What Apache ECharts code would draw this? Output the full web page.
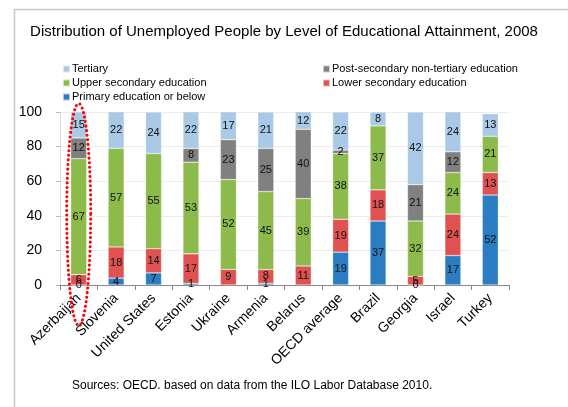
<!DOCTYPE html>
<html>
<head>
<meta charset="utf-8">
<script src="https://cdn.jsdelivr.net/npm/echarts@6/dist/echarts.min.js"></script>
<style>html,body{margin:0;padding:0;background:#fff}#c{width:568px;height:407px}</style>
</head>
<body>
<div id="c"></div>
<script>
const categories = ['Azerbaijan','Slovenia','United States','Estonia','Ukraine','Armenia','Belarus','OECD average','Brazil','Georgia','Israel','Turkey'];
const primary   = [0, 4, 7, 1, null, 1, null, 19, 37, 0, 17, 52];
const lowerSec  = [6, 18, 14, 17, 9, 8, 11, 19, 18, 5, 24, 13];
const upperSec  = [67, 57, 55, 53, 52, 45, 39, 38, 37, 32, 24, 21];
const postSec   = [12, null, null, 8, 23, 25, 40, 2, null, 21, 12, null];
const tertiary  = [15, 22, 24, 22, 17, 21, 12, 22, 8, 42, 24, 13];
const yTicks = {min: 0, max: 100, interval: 20};
const highlighted = 'Azerbaijan';

const font = 'Liberation Sans, Arial, sans-serif';
const chart = echarts.init(document.getElementById('c'), null, {renderer: 'canvas'});

function bar(name, data, color) {
  return {
    name: name, type: 'bar', stack: 'total', data: data, barWidth: 16,
    itemStyle: {color: color, borderColor: 'rgba(255,255,255,0.6)', borderWidth: 0.5},
    label: {show: true, position: 'inside', color: '#111', fontSize: 11, fontFamily: font,
            formatter: p => (p.value === null || p.value === undefined) ? '' : String(p.value)},
    emphasis: {disabled: true}
  };
}

const option = {
  animation: false,
  backgroundColor: '#fff',
  title: {
    text: 'Distribution of Unemployed People by Level of Educational Attainment, 2008',
    left: 'center', top: 19,
    textStyle: {fontSize: 15, fontWeight: 'normal', color: '#000', fontFamily: font}
  },
  legend: [
    {data: ['Tertiary', 'Upper secondary education', 'Primary education or below'],
     orient: 'vertical', left: 57, top: 57, itemWidth: 7, itemHeight: 7, itemGap: 0,
     icon: 'rect', selectedMode: false,
     textStyle: {fontSize: 11, color: '#000', fontFamily: font, lineHeight: 14, padding: [0,0,0,-3]}},
    {data: ['Post-secondary non-tertiary education', 'Lower secondary education'],
     orient: 'vertical', left: 317, top: 57, itemWidth: 7, itemHeight: 7, itemGap: 0,
     icon: 'rect', selectedMode: false,
     textStyle: {fontSize: 11, color: '#000', fontFamily: font, lineHeight: 14, padding: [0,0,0,-3]}}
  ],
  grid: {left: 60, right: 59, top: 112, bottom: 122, containLabel: false},
  xAxis: {
    type: 'category', data: categories,
    axisLine: {lineStyle: {color: '#888', width: 1}},
    axisTick: {show: true, alignWithLabel: false, length: 5, lineStyle: {color: '#888'}},
    axisLabel: {rotate: 45, fontSize: 14, color: '#000', fontFamily: font, margin: 11, interval: 0}
  },
  yAxis: {
    type: 'value', min: yTicks.min, max: yTicks.max, interval: yTicks.interval,
    axisLine: {show: true, lineStyle: {color: '#d9d9d9'}},
    axisTick: {show: true, length: 4, lineStyle: {color: '#bbb'}},
    splitLine: {lineStyle: {color: '#ececec'}},
    axisLabel: {fontSize: 14, color: '#000', fontFamily: font, margin: 18}
  },
  series: [
    bar('Primary education or below', primary, '#2a7dc2'),
    bar('Lower secondary education', lowerSec, '#e05252'),
    bar('Upper secondary education', upperSec, '#8cbb4c'),
    bar('Post-secondary non-tertiary education', postSec, '#808080'),
    bar('Tertiary', tertiary, '#a9c9e6')
  ],
  graphic: [
    {type: 'rect', left: 12, top: 7, z: -10, silent: true,
     shape: {width: 620, height: 460}, style: {fill: 'none', stroke: '#c8c8c8', lineWidth: 1.5}},
    {type: 'text', left: 72, top: 380, silent: true,
     style: {text: 'Sources: OECD. based on data from the ILO Labor Database 2010.', fill: '#000', font: '12px ' + font}}
  ]
};
chart.setOption(option);

// Dotted ellipse annotation around the highlighted category
const c0 = chart.convertToPixel({xAxisIndex: 0, yAxisIndex: 0}, [highlighted, 50]);
const cx = c0[0], cy = c0[1] + 16, rx = 12, ry = 111;
const pts = [];
for (let i = 0; i < 120; i++) {
  const t = i / 120 * Math.PI * 2;
  pts.push([cx + rx * Math.cos(t), cy + ry * Math.sin(t)]);
}
option.graphic.push({type: 'polygon', silent: true, z: 100,
  shape: {points: pts},
  style: {fill: 'none', stroke: '#ff0000', lineWidth: 3, lineDash: [0.1, 4.5], lineCap: 'round'}});
chart.setOption({graphic: option.graphic});
</script>
</body>
</html>
